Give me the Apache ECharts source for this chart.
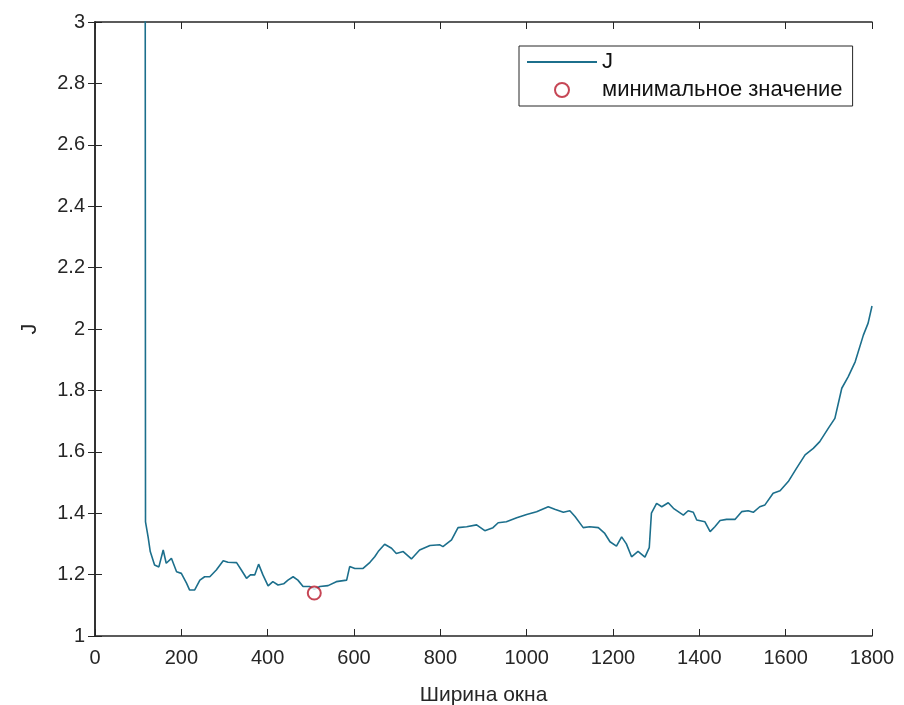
<!DOCTYPE html>
<html>
<head>
<meta charset="utf-8">
<script src="https://cdn.jsdelivr.net/npm/echarts@6/dist/echarts.min.js"></script>
<style>
html,body{margin:0;padding:0;background:#fff;}
#JChart{width:904px;height:705px;}
</style>
</head>
<body>
<div id="JChart"></div>
<script>
//x axis: window width
var xData=[116,117,123,128,138,148,158,165,177,189,200,212,219,231,243,254,266,281,297,308,
    328,339,351,360,370,379,389,401,412,424,437,447,459,470,482,498,508,521,540,559,
    583,590,602,621,637,648,656,671,687,698,714,733,752,776,799,806,826,841,861,884,
    903,922,934,953,977,1000,1023,1050,1065,1085,1100,1112,1131,1146,1166,1181,1193,1208,1220,1231,
    1243,1258,1274,1284,1289,1301,1313,1328,1340,1363,1374,1386,1394,1413,1425,1436,1448,1463,1483,1498,
    1513,1525,1540,1552,1571,1587,1606,1625,1645,1664,1679,1699,1714,1730,1745,1761,1780,1791,1800];
//y axis: J
var yData=[4.0,1.372,1.323,1.275,1.231,1.225,1.28,1.237,1.253,1.209,1.204,1.172,1.150,1.150,1.182,1.193,1.193,1.215,1.245,1.24,
    1.239,1.215,1.188,1.199,1.199,1.234,1.199,1.163,1.177,1.166,1.17,1.182,1.193,1.182,1.161,1.161,1.152,1.161,1.164,1.177,
    1.182,1.226,1.22,1.22,1.24,1.258,1.275,1.299,1.286,1.269,1.275,1.251,1.28,1.295,1.297,1.291,1.313,1.353,1.356,1.362,
    1.343,1.353,1.369,1.372,1.385,1.396,1.405,1.421,1.413,1.403,1.408,1.389,1.353,1.356,1.353,1.334,1.307,1.293,1.323,1.300,
    1.258,1.276,1.257,1.288,1.40,1.432,1.421,1.434,1.416,1.394,1.408,1.403,1.378,1.372,1.34,1.356,1.376,1.38,1.38,1.405,
    1.408,1.403,1.421,1.427,1.465,1.473,1.503,1.546,1.59,1.611,1.633,1.677,1.709,1.807,1.845,1.893,1.98,2.019,2.075];
//minimum point
var minPoint=[508,1.14];
var seriesNames=['J','минимальное значение'];

var lineData=[];
for(var i=0;i<xData.length;i++)
{
    lineData.push([xData[i],yData[i]]);
}

var axisColor='#262626';
var fontName='Liberation Sans';
var lineColor='#1c6f8c';
var markColor='#b8182a';

//plain numbers on the axis, no thousands separator
function plainLabel(value)
{
    return String(value);
}

var myChart = echarts.init(document.getElementById('JChart'));
myChart.setOption({
    animation:false,
    grid:{
        left:95,
        right:32,
        top:22,
        bottom:69,
        containLabel:false,
        outerBoundsMode:'none'
    },
    legend:{
        left:519,
        top:46,
        orient:'vertical',
        padding:[5,10,5,7],
        itemGap:6,
        itemWidth:70,
        itemHeight:14,
        backgroundColor:'#fff',
        borderColor:axisColor,
        borderWidth:1,
        borderRadius:0,
        textStyle:{
            color:'#111',
            fontFamily:fontName,
            fontSize:22
        },
        data:[
            {name:seriesNames[0],itemStyle:{opacity:0}},
            {name:seriesNames[1]}
        ]
    },
    xAxis:[
        {
            type:'value',
            name:'Ширина окна',
            nameLocation:'middle',
            nameGap:49,
            nameTextStyle:{color:axisColor,fontFamily:fontName,fontSize:21},
            min:0,
            max:1800,
            interval:200,
            splitLine:{show:false},
            axisLine:{lineStyle:{color:axisColor,width:1.5}},
            axisTick:{inside:true,length:7,lineStyle:{color:axisColor}},
            axisLabel:{color:axisColor,fontFamily:fontName,fontSize:20,margin:12,formatter:plainLabel}
        },
        {
            type:'value',
            position:'top',
            min:0,
            max:1800,
            interval:200,
            splitLine:{show:false},
            axisLine:{lineStyle:{color:axisColor,width:1.5}},
            axisTick:{inside:true,length:7,lineStyle:{color:axisColor}},
            axisLabel:{show:false}
        }
    ],
    yAxis:[
        {
            type:'value',
            name:'J',
            nameLocation:'middle',
            nameGap:54,
            nameTextStyle:{color:axisColor,fontFamily:fontName,fontSize:22},
            min:1,
            max:3,
            interval:0.2,
            splitLine:{show:false},
            axisLine:{show:true,lineStyle:{color:axisColor,width:1.5}},
            axisTick:{show:true,inside:true,length:7,lineStyle:{color:axisColor}},
            axisLabel:{color:axisColor,fontFamily:fontName,fontSize:20,margin:10}
        },
        {
            type:'value',
            position:'right',
            min:1,
            max:3,
            interval:0.2,
            splitLine:{show:false},
            axisLine:{show:true,lineStyle:{color:axisColor,width:1.5}},
            axisTick:{show:true,inside:true,length:7,lineStyle:{color:axisColor}},
            axisLabel:{show:false}
        }
    ],
    series:[
        {
            name:seriesNames[0],
            type:'line',
            data:lineData,
            symbol:'none',
            clip:true,
            lineStyle:{color:lineColor,width:1.6},
            itemStyle:{color:lineColor}
        },
        {
            name:seriesNames[1],
            type:'scatter',
            data:[minPoint],
            symbol:'emptyCircle',
            symbolSize:13,
            z:5,
            itemStyle:{color:markColor,borderColor:markColor,borderWidth:1.3}
        }
    ]
});
</script>
</body>
</html>
